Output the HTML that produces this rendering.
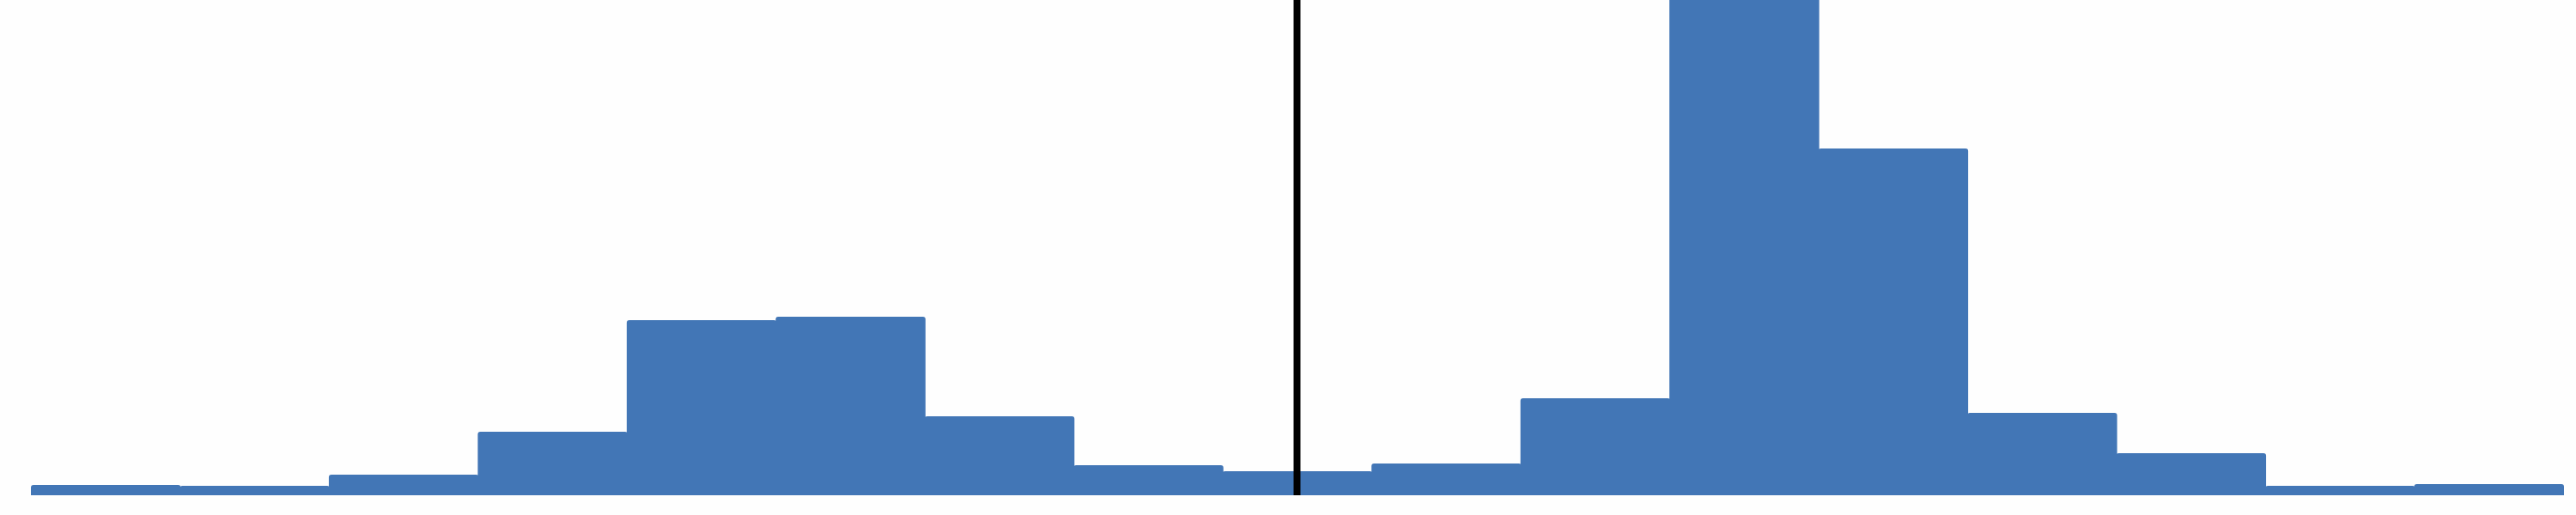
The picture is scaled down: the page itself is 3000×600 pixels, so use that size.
<!DOCTYPE html>
<html><head><meta charset="utf-8"><style>
html,body{margin:0;padding:0;background:#fefefe;}
svg{display:block;}
</style></head><body>
<svg id="chart" width="3000" height="600" viewBox="0 0 3000 600" xmlns="http://www.w3.org/2000/svg">
<g id="bars"></g>
<g id="marker"></g>
</svg>
<script>
const binIndex = [0,1,2,3,4,5,6,7,8,9,10,11,12,13,14,15,16];
const counts = [12,11,24,74,204,208,92,35,28,37,113,640,404,96,49,11,13];
const markerValue = [8.5];

const X0 = 36, X1 = 2985, BASE = 577, TOP = 0;
const nBins = binIndex.length;
const bw = (X1 - X0) / nBins;
function xScale(i){ return X0 + i * bw; }
const yMax = 577;
function yScale(v){ return BASE - (v / yMax) * (BASE - TOP); }

const ns = "http://www.w3.org/2000/svg";
const g = document.getElementById('bars');
binIndex.forEach((b, k) => {
  const x = xScale(b), y = Math.max(yScale(counts[k]), -10);
  const p = document.createElementNS(ns, 'path');
  const r = 3, w = bw + 1;
  p.setAttribute('d', `M${x},${BASE} L${x},${y+r} Q${x},${y} ${x+r},${y} L${x+w-r},${y} Q${x+w},${y} ${x+w},${y+r} L${x+w},${BASE} Z`);
  p.setAttribute('fill', '#4276b6');
  
  
  g.appendChild(p);
});
const m = document.getElementById('marker');
markerValue.forEach(v => {
  const l = document.createElementNS(ns, 'rect');
  l.setAttribute('x', xScale(v) - 4 - bw/2 + bw/2 + 0);
  l.setAttribute('y', 0);
  l.setAttribute('width', 8);
  l.setAttribute('height', BASE);
  l.setAttribute('fill', '#000');
  
  
  m.appendChild(l);
});
</script>
</body></html>
